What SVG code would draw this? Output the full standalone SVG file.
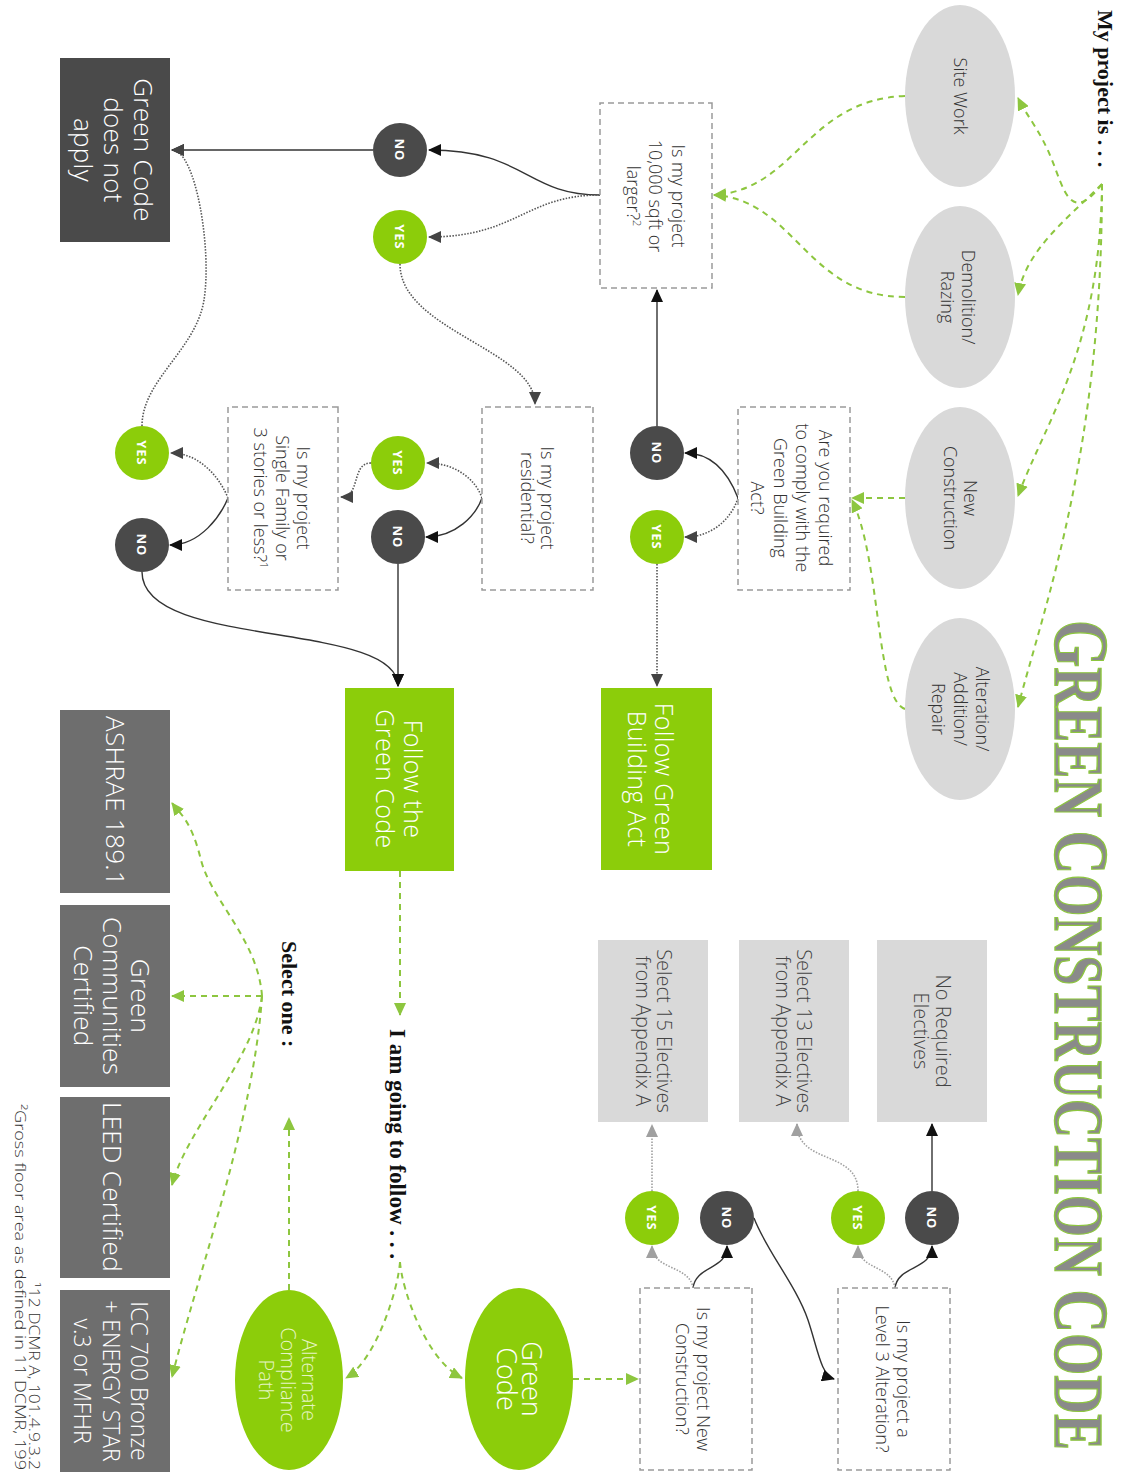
<svg xmlns="http://www.w3.org/2000/svg" width="1126" height="1473" viewBox="0 0 1126 1473">
<style>
.bg{fill:#ffffff}
.q{fill:#ffffff;stroke:#9a9a9a;stroke-width:1.5;stroke-dasharray:6 4}
.ell{fill:#d9d9d9}
.grn{fill:#8ccd0a}
.dark{fill:#4a4a4a}
.alt{fill:#6e6e6e}
.lt{fill:#d9d9d9}
.t{font-family:'Open Sans','DejaVu Sans',sans-serif;font-weight:300;text-anchor:middle}
.s17{font-size:18px;fill:#333333}
.s19{font-size:20px;fill:#444444}
.w23{font-size:25px;fill:#ffffff;letter-spacing:0.4px}
.w25{font-size:26px;fill:#ffffff;letter-spacing:0.3px}
.yn{font-family:'Open Sans','DejaVu Sans',sans-serif;font-weight:700;font-size:13px;fill:#ffffff;text-anchor:middle;letter-spacing:1px}
.hd{font-family:'Liberation Serif',serif;font-weight:700;fill:#111111}
.title{font-family:'Liberation Serif',serif;font-weight:700;fill:#8a8a8a;stroke:#8dc63f;stroke-width:1.4}
.fn{font-family:'Open Sans','DejaVu Sans',sans-serif;font-weight:300;font-size:14px;fill:#333333;text-anchor:end}
.gd{fill:none;stroke:#8dc63f;stroke-width:2;stroke-dasharray:6 5;marker-end:url(#ag)}
.bk{fill:none;stroke:#333333;stroke-width:1.4;marker-end:url(#ab)}
.dt{fill:none;stroke:#555555;stroke-width:1.6;stroke-dasharray:1.5 1.5;marker-end:url(#ad)}
.gy{fill:none;stroke:#a0a0a0;stroke-width:1.6;stroke-dasharray:1.5 1.5;marker-end:url(#ay)}
</style>
<defs>
<marker id="ag" markerUnits="userSpaceOnUse" markerWidth="13" markerHeight="12" refX="12" refY="6" orient="auto"><path d="M0,0 L13,6 L0,12 z" fill="#8dc63f"/></marker>
<marker id="ab" markerUnits="userSpaceOnUse" markerWidth="13" markerHeight="12" refX="12" refY="6" orient="auto"><path d="M0,0 L13,6 L0,12 z" fill="#111111"/></marker>
<marker id="ad" markerUnits="userSpaceOnUse" markerWidth="13" markerHeight="12" refX="12" refY="6" orient="auto"><path d="M0,0 L13,6 L0,12 z" fill="#444444"/></marker>
<marker id="ay" markerUnits="userSpaceOnUse" markerWidth="13" markerHeight="12" refX="12" refY="6" orient="auto"><path d="M0,0 L13,6 L0,12 z" fill="#a0a0a0"/></marker>
</defs>
<rect class="bg" x="0" y="0" width="1126" height="1473"/>
<g transform="translate(1126,0) rotate(90)">
<g id="headings">
<text class="title" transform="translate(620,71) scale(0.77,1)" x="0" y="0" font-size="70"><tspan font-size="79">G</tspan>REEN <tspan font-size="79">C</tspan>ONSTRUCTION <tspan font-size="79">C</tspan>ODE</text>
<text class="hd" x="10" y="28" font-size="22">My project is . . .</text>
<text class="hd" x="1029" y="736" font-size="23">I am going to follow . . .</text>
<text class="hd" x="941" y="844" font-size="22">Select one :</text>
<text class="fn" x="1470" y="1097" textLength="188" lengthAdjust="spacingAndGlyphs">¹12 DCMR A, 101.4.9.3.2</text>
<text class="fn" x="1470" y="1111" textLength="366" lengthAdjust="spacingAndGlyphs">²Gross floor area as defined in 11 DCMR, 199</text>
</g>
<g id="connectors">
<path class="gd" d="M184,24 C225,55 190,62 160,74 S118,98 98,108"/>
<path class="gd" d="M184,24 C220,60 250,100 295,108"/>
<path class="gd" d="M184,24 C350,26 420,80 496,108"/>
<path class="gd" d="M184,24 C450,24 600,80 707,108"/>
<path class="gd" d="M96,221 C100,320 190,330 195,412"/>
<path class="gd" d="M297,221 C297,320 200,330 195,412"/>
<path class="gd" d="M498,221 L498,274"/>
<path class="gd" d="M709,221 C700,250 560,245 500,274"/>
<path class="gd" d="M871,726 L1015,726"/>
<path class="gd" d="M1262,726 C1290,724 1360,700 1378,664"/>
<path class="gd" d="M1262,726 C1290,728 1360,750 1378,780"/>
<path class="gd" d="M1379,553 L1379,488"/>
<path class="gd" d="M1290,837 L1118,837"/>
<path class="gd" d="M996,864 C940,868 900,915 860,925 S815,945 803,954"/>
<path class="gd" d="M996,864 L996,954"/>
<path class="gd" d="M996,864 C1060,872 1130,940 1185,954"/>
<path class="gd" d="M996,864 C1120,872 1280,930 1377,954"/>
<path class="bk" d="M195,526 C195,600 150,600 150,697"/>
<path class="bk" d="M150,753 L150,954"/>
<path class="bk" d="M426,469 L290,469"/>
<path class="bk" d="M498,388 C480,395 453,410 453,441"/>
<path class="bk" d="M498,644 C515,650 537,670 537,700"/>
<path class="bk" d="M564,728 L686,728"/>
<path class="bk" d="M498,898 C515,905 545,925 545,956"/>
<path class="bk" d="M572,984 C650,984 620,728 686,728"/>
<path class="bk" d="M1288,433 C1265,430 1270,399 1246,399"/>
<path class="bk" d="M1218,372 C1250,360 1285,330 1320,318 C1350,308 1375,305 1379,292"/>
<path class="bk" d="M1288,231 C1265,228 1270,194 1246,194"/>
<path class="bk" d="M1191,194 L1124,194"/>
<path class="dt" d="M195,526 C195,600 237,610 237,697"/>
<path class="dt" d="M264,726 C330,726 350,591 404,591"/>
<path class="dt" d="M498,388 C520,395 537,415 537,441"/>
<path class="dt" d="M564,469 L686,469"/>
<path class="dt" d="M498,644 C480,650 463,670 463,699"/>
<path class="dt" d="M463,755 C463,775 497,765 497,785"/>
<path class="dt" d="M498,898 C480,905 453,925 453,955"/>
<path class="dt" d="M426,984 C380,984 350,930 300,922 C250,914 150,930 150,954"/>
<path class="gy" d="M1288,433 C1265,436 1270,474 1246,474"/>
<path class="gy" d="M1191,474 L1125,474"/>
<path class="gy" d="M1288,231 C1265,234 1270,268 1246,268"/>
<path class="gy" d="M1191,268 C1150,268 1165,329 1124,329"/>
</g>
<g id="site-work"><ellipse class="ell" cx="96" cy="166" rx="91" ry="55"/><text class="t s17" x="96" y="172">Site Work</text></g>
<g id="demolition"><ellipse class="ell" cx="297" cy="166" rx="91" ry="55"/><text class="t s17" x="297" y="164">Demolition/<tspan x="297" y="185">Razing</tspan></text></g>
<g id="new-construction"><ellipse class="ell" cx="498" cy="166" rx="91" ry="55"/><text class="t s17" x="498" y="162">New<tspan x="498" y="182">Construction</tspan></text></g>
<g id="alteration"><ellipse class="ell" cx="709" cy="166" rx="91" ry="55"/><text class="t s17" x="709" y="150">Alteration/<tspan x="709" y="172">Addition/</tspan><tspan x="709" y="194">Repair</tspan></text></g>
<g id="q-size"><rect class="q" x="103" y="414" width="185" height="112"/><text class="t s17" x="196" y="454">Is my project<tspan x="196" y="477">10,000 sqft or</tspan><tspan x="196" y="499">larger?<tspan font-size="11" dy="-6">2</tspan></tspan></text></g>
<g id="q-gba"><rect class="q" x="407" y="276" width="183" height="112"/><text class="t s17" x="498" y="307">Are you required<tspan x="498" y="330">to comply with the</tspan><tspan x="498" y="352">Green Building</tspan><tspan x="498" y="375">Act?</tspan></text></g>
<g id="q-res"><rect class="q" x="407" y="533" width="183" height="111"/><text class="t s17" x="498" y="585">Is my project<tspan x="498" y="605">residential?</tspan></text></g>
<g id="q-sf"><rect class="q" x="407" y="788" width="183" height="110"/><text class="t s17" x="498" y="829">Is my project<tspan x="498" y="850">Single Family or</tspan><tspan x="498" y="872">3 stories or less?<tspan font-size="11" dy="-6">1</tspan></tspan></text></g>
<g id="q-newc"><rect class="q" x="1288" y="374" width="182" height="112"/><text class="t s17" x="1379" y="429">Is my project New<tspan x="1379" y="450">Construction?</tspan></text></g>
<g id="q-l3"><rect class="q" x="1288" y="176" width="182" height="112"/><text class="t s17" x="1379" y="229">Is my project a<tspan x="1379" y="250">Level 3 Alteration?</tspan></text></g>
<g id="follow-gba"><rect class="grn" x="688" y="414" width="182" height="111"/><text class="t w23" x="779" y="471">Follow Green<tspan x="779" y="498">Building Act</tspan></text></g>
<g id="follow-gc"><rect class="grn" x="688" y="672" width="183" height="109"/><text class="t w23" x="779" y="722">Follow the<tspan x="779" y="750">Green Code</tspan></text></g>
<g id="gc-not-apply"><rect class="dark" x="58" y="956" width="184" height="110"/><text class="t w25" x="150" y="992">Green Code<tspan x="150" y="1022">does not</tspan><tspan x="150" y="1052">apply</tspan></text></g>
<g id="no1"><circle class="dark" cx="150" cy="726" r="27"/><text class="yn" x="150" y="731">NO</text></g>
<g id="yes1"><circle class="grn" cx="237" cy="726" r="27"/><text class="yn" x="237" y="731">YES</text></g>
<g id="no2"><circle class="dark" cx="453" cy="469" r="27"/><text class="yn" x="453" y="474">NO</text></g>
<g id="yes2"><circle class="grn" cx="537" cy="469" r="27"/><text class="yn" x="537" y="474">YES</text></g>
<g id="yes3"><circle class="grn" cx="463" cy="728" r="27"/><text class="yn" x="463" y="733">YES</text></g>
<g id="no3"><circle class="dark" cx="537" cy="728" r="27"/><text class="yn" x="537" y="733">NO</text></g>
<g id="yes4"><circle class="grn" cx="453" cy="984" r="27"/><text class="yn" x="453" y="989">YES</text></g>
<g id="no4"><circle class="dark" cx="545" cy="984" r="27"/><text class="yn" x="545" y="989">NO</text></g>
<g id="yes5"><circle class="grn" cx="1218" cy="474" r="27"/><text class="yn" x="1218" y="479">YES</text></g>
<g id="no5"><circle class="dark" cx="1218" cy="399" r="27"/><text class="yn" x="1218" y="404">NO</text></g>
<g id="yes6"><circle class="grn" cx="1218" cy="268" r="27"/><text class="yn" x="1218" y="273">YES</text></g>
<g id="no6"><circle class="dark" cx="1218" cy="194" r="27"/><text class="yn" x="1218" y="199">NO</text></g>
<g id="sel15"><rect class="lt" x="940" y="418" width="182" height="110"/><text class="t s19" x="1031" y="469">Select 15 Electives<tspan x="1031" y="490">from Appendix A</tspan></text></g>
<g id="sel13"><rect class="lt" x="940" y="277" width="182" height="110"/><text class="t s19" x="1031" y="329">Select 13 Electives<tspan x="1031" y="350">from Appendix A</tspan></text></g>
<g id="no-req"><rect class="lt" x="940" y="139" width="182" height="110"/><text class="t s19" x="1031" y="190">No Required<tspan x="1031" y="212">Electives</tspan></text></g>
<g id="green-code"><ellipse class="grn" cx="1379" cy="607" rx="91" ry="54"/><text class="t" x="1379" y="604" font-size="27" fill="#ffffff">Green<tspan x="1379" y="629">Code</tspan></text></g>
<g id="alt-path"><ellipse class="grn" cx="1380" cy="837" rx="90" ry="54"/><text class="t" x="1380" y="824" font-size="20" fill="#e6f5c4">Alternate<tspan x="1380" y="845">Compliance</tspan><tspan x="1380" y="867">Path</tspan></text></g>
<g id="ashrae"><rect class="alt" x="710" y="956" width="183" height="110"/><text class="t w25" x="801" y="1020">ASHRAE 189.1</text></g>
<g id="gcc"><rect class="alt" x="905" y="956" width="182" height="110"/><text class="t w25" x="996" y="995">Green<tspan x="996" y="1023">Communities</tspan><tspan x="996" y="1052">Certified</tspan></text></g>
<g id="leed"><rect class="alt" x="1097" y="956" width="181" height="110"/><text class="t w25" x="1187" y="1023">LEED Certified</text></g>
<g id="icc"><rect class="alt" x="1290" y="956" width="182" height="110"/><text class="t" x="1381" y="995" font-size="23" fill="#ffffff">ICC 700 Bronze<tspan x="1381" y="1023">+ ENERGY STAR</tspan><tspan x="1381" y="1052">v.3 or MFHR</tspan></text></g>
</g>
</svg>
